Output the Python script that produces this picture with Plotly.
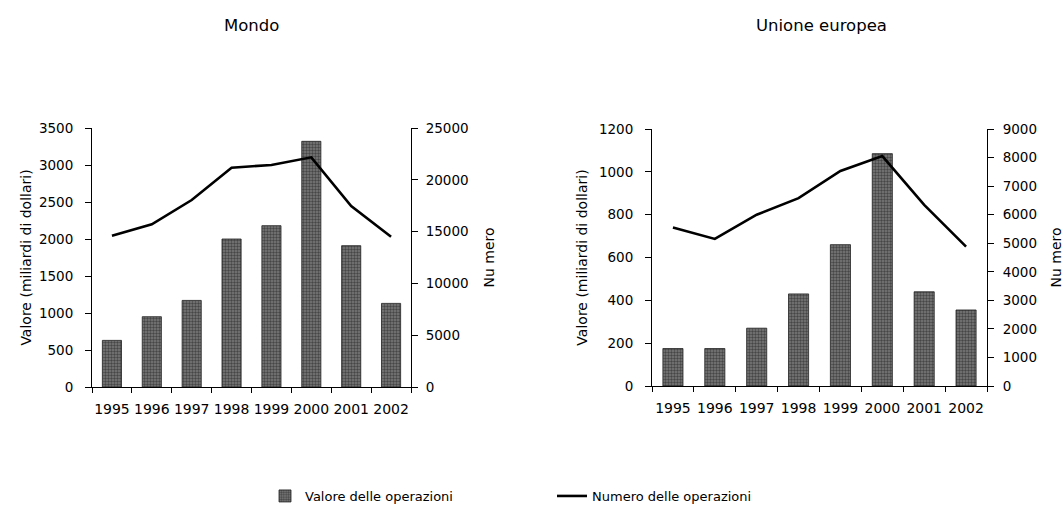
import plotly.graph_objects as go

years = ["1995", "1996", "1997", "1998", "1999", "2000", "2001", "2002"]
mondo_valore = [630, 950, 1170, 2000, 2180, 3320, 1910, 1130]
mondo_numero = [14600, 15700, 18050, 21170, 21430, 22170, 17470, 14510]
ue_valore = [175, 175, 270, 430, 660, 1085, 440, 355]
ue_numero = [5550, 5150, 6000, 6580, 7530, 8050, 6340, 4880]

titles = ["Mondo", "Unione europea"]
name_bar = "Valore delle operazioni"
name_line = "Numero delle operazioni"
ytitle_left = "Valore (miliardi di dollari)"
ytitle_right = "Nu mero"

FONT = "DejaVu Sans"
W, H = 1064, 514

bar_style = dict(
    color="#666666",
    pattern=dict(shape=".", fgcolor="#111111", bgcolor="#7a7a7a", size=3, solidity=0.5),
    line=dict(color="#222222", width=0.8),
)

fig = go.Figure()
fig.add_trace(go.Bar(x=years, y=mondo_valore, name=name_bar, marker=bar_style,
                     width=0.48, xaxis="x", yaxis="y", showlegend=True))
fig.add_trace(go.Scatter(x=years, y=mondo_numero, name=name_line, mode="lines",
                         line=dict(color="black", width=2.6), xaxis="x", yaxis="y2",
                         showlegend=True))
fig.add_trace(go.Bar(x=years, y=ue_valore, name=name_bar, marker=bar_style,
                     width=0.48, xaxis="x2", yaxis="y3", showlegend=False))
fig.add_trace(go.Scatter(x=years, y=ue_numero, name=name_line, mode="lines",
                         line=dict(color="black", width=2.6), xaxis="x2", yaxis="y4",
                         showlegend=False))

def px_x(p):
    return p / W

def px_y(p):
    return 1 - p / H

tickfont = dict(family=FONT, size=14, color="black")
xax = dict(type="category", tickson="boundaries", ticks="outside", ticklen=5,
           tickcolor="black", showline=True, linecolor="black", linewidth=1,
           showgrid=False, tickfont=tickfont, fixedrange=True, ticklabelstandoff=9,
           tickangle=0, automargin=False)
yax = dict(ticks="outside", ticklen=6, tickcolor="black", showline=True,
           linecolor="black", linewidth=1, showgrid=False, zeroline=False,
           tickfont=dict(tickfont, size=13.5), tickformat="d", automargin=False)
tfont = dict(family=FONT, size=14)

fig.update_layout(
    width=W, height=H,
    margin=dict(l=0, r=0, t=0, b=0),
    paper_bgcolor="white", plot_bgcolor="white",
    font=dict(family=FONT, size=13, color="black"),
    xaxis=dict(xax, domain=[px_x(92), px_x(411)], anchor="y"),
    yaxis=dict(yax, domain=[px_y(387), px_y(128)], range=[0, 3500], dtick=500,
               anchor="x", ticklabelstandoff=9,
               title=dict(text=ytitle_left, standoff=4, font=tfont)),
    yaxis2=dict(yax, overlaying="y", side="right", anchor="x", range=[0, 25000],
                dtick=5000, ticklabelstandoff=5,
                title=dict(text=ytitle_right, standoff=16, font=tfont)),
    xaxis2=dict(xax, domain=[px_x(652), px_x(987)], anchor="y3"),
    yaxis3=dict(yax, domain=[px_y(386), px_y(129)], range=[0, 1200], dtick=200,
                anchor="x2", ticklabelstandoff=9,
                title=dict(text=ytitle_left, standoff=8, font=tfont)),
    yaxis4=dict(yax, overlaying="y3", side="right", anchor="x2", range=[0, 9000],
                dtick=1000, ticklabelstandoff=6,
                title=dict(text=ytitle_right, standoff=22, font=tfont)),
    legend=dict(orientation="h", x=px_x(265), y=px_y(496), xanchor="left",
                yanchor="middle", entrywidth=242, entrywidthmode="pixels",
                itemwidth=30, font=dict(family=FONT, size=13),
                bgcolor="rgba(0,0,0,0)"),
    annotations=[
        dict(text=titles[0], x=px_x(251), y=px_y(25), xref="paper", yref="paper",
             showarrow=False, xanchor="center", yanchor="middle",
             font=dict(family=FONT, size=16.5)),
        dict(text=titles[1], x=px_x(821), y=px_y(25), xref="paper", yref="paper",
             showarrow=False, xanchor="center", yanchor="middle",
             font=dict(family=FONT, size=16.5)),
    ],
)

fig.write_html("out.html")
